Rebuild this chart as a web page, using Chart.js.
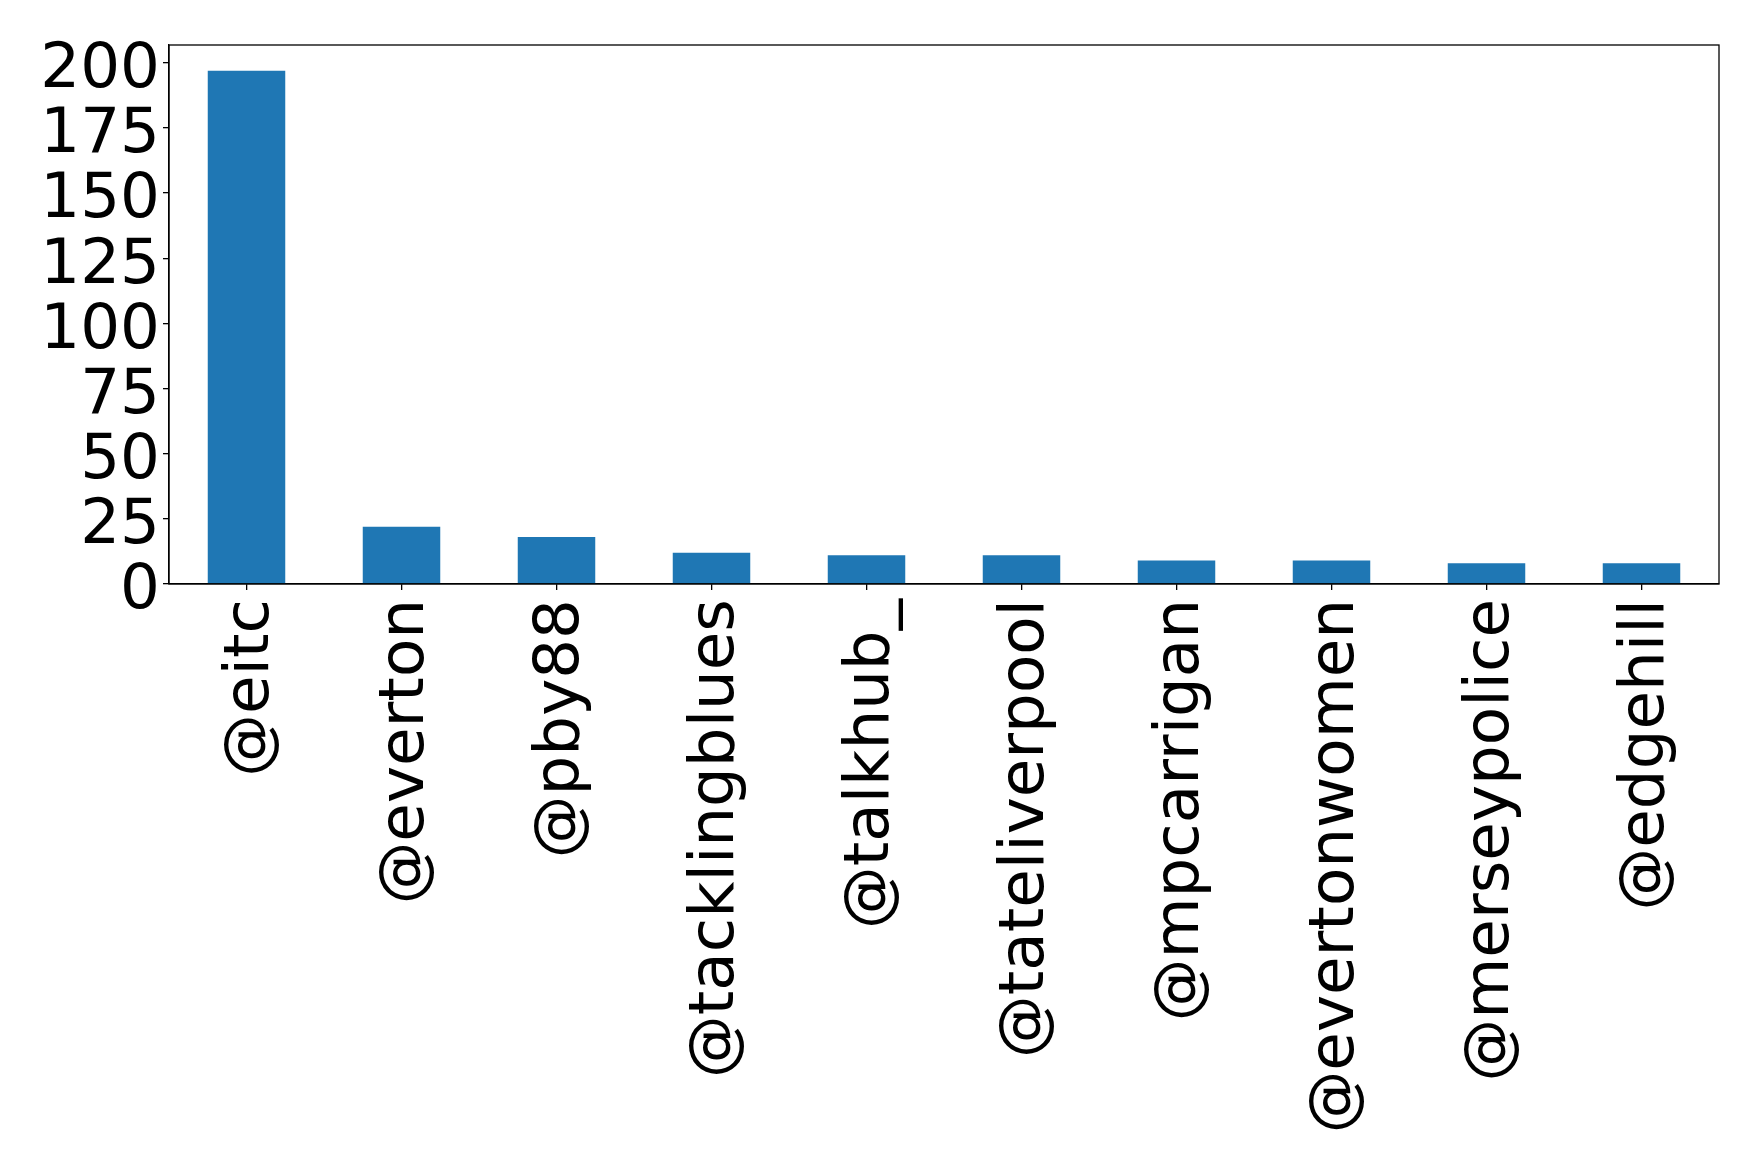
<!DOCTYPE html>
<html>
<head>
<meta charset="utf-8">
<script src="https://cdn.jsdelivr.net/npm/chart.js@4"></script>
<style>
html,body{margin:0;padding:0;background:#fff;}
#wrap{width:1758px;height:1166px;}
</style>
</head>
<body>
<div id="wrap"><canvas id="c" width="1758" height="1166"></canvas></div>
<script>
const categories = ["@eitc","@everton","@pby88","@tacklingblues","@talkhub_","@tateliverpool","@mpcarrigan","@evertonwomen","@merseypolice","@edgehill"];
const counts = [197, 22, 18, 12, 11, 11, 9, 9, 8, 8];
const yTicks = [0, 25, 50, 75, 100, 125, 150, 175, 200];

const FONT = "'DejaVu Sans', sans-serif";
const FSIZE = 62.7;
const PLOT = {left: 169, top: 45, right: 1719, bottom: 584};
const W = 1758, H = 1166;

const frame = {
  id: 'frame',
  afterDraw(chart) {
    const a = chart.chartArea, ctx = chart.ctx;
    ctx.save();
    ctx.strokeStyle = '#000';
    ctx.lineWidth = 1.3;
    ctx.strokeRect(a.left, a.top, a.right - a.left, a.bottom - a.top);
    ctx.restore();
  }
};

new Chart(document.getElementById('c'), {
  type: 'bar',
  data: {
    labels: categories,
    datasets: [{
      data: counts,
      backgroundColor: '#1f77b4',
      borderWidth: 0,
      barPercentage: 0.5,
      categoryPercentage: 1.0
    }]
  },
  options: {
    responsive: false,
    animation: false,
    devicePixelRatio: 1,
    layout: {padding: {left: 0, top: PLOT.top, right: W - PLOT.right, bottom: 0}},
    plugins: {legend: {display: false}, tooltip: {enabled: false}},
    scales: {
      x: {
        offset: true,
        grid: {display: true, drawOnChartArea: false, drawTicks: true, tickLength: 6, color: '#000', lineWidth: 1.3, offset: false},
        border: {display: true, color: '#000', width: 1.3},
        ticks: {
          color: '#000', font: {family: FONT, size: FSIZE}, padding: 9, labelOffset: 5,
          autoSkip: false, minRotation: 90, maxRotation: 90
        },
        afterFit(scale) { scale.height = H - PLOT.bottom; }
      },
      y: {
        min: 0,
        max: 206.85,
        grid: {display: true, drawOnChartArea: false, drawTicks: true, tickLength: 6, color: '#000', lineWidth: 1.3},
        border: {display: true, color: '#000', width: 1.3},
        ticks: {color: '#000', font: {family: FONT, size: FSIZE}, padding: 3, labelOffset: 8, autoSkip: false},
        afterBuildTicks(scale) { scale.ticks = yTicks.map(v => ({value: v})); },
        afterFit(scale) { scale.width = PLOT.left; }
      }
    }
  },
  plugins: [frame]
});
</script>
</body>
</html>
